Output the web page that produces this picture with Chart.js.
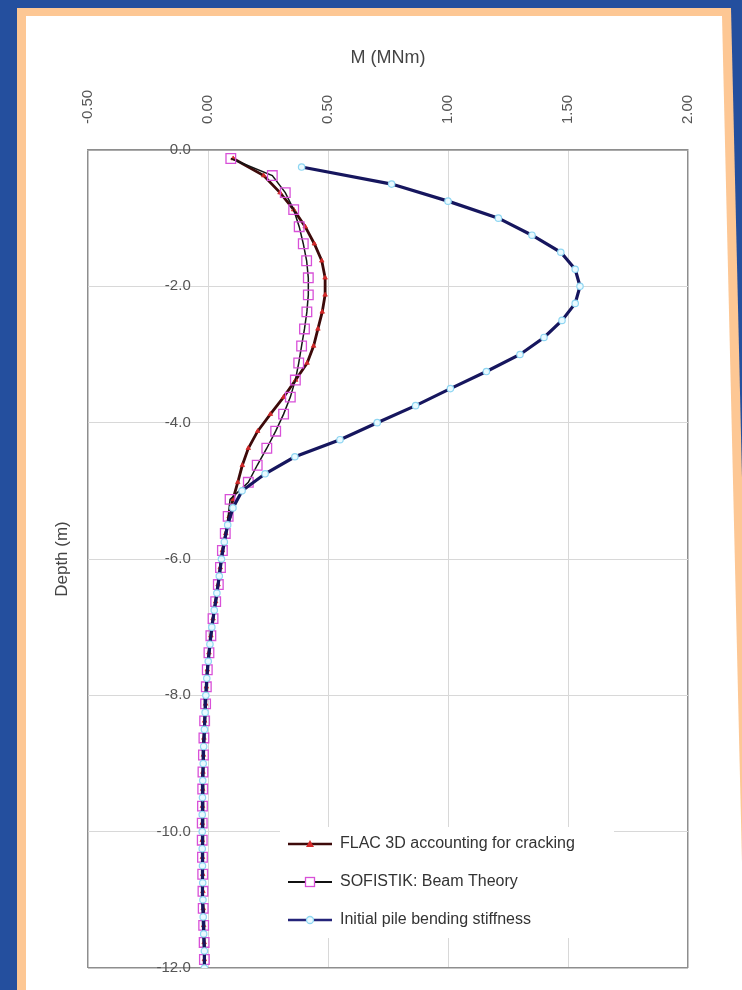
<!DOCTYPE html>
<html>
<head>
<meta charset="utf-8">
<title>Pile bending moment with depth</title>
<script src="https://cdn.jsdelivr.net/npm/chart.js@4.4.1/dist/chart.umd.min.js"></script>
<style>
  html, body { margin: 0; padding: 0; width: 742px; height: 990px; overflow: hidden; background: #244f9e; }
  #frame { position: absolute; left: 0; top: 0; width: 742px; height: 990px; background: #fdc794;
           clip-path: polygon(17px 8px, 731px 8px, 754px 990px, 17px 990px); }
  #sheet { position: absolute; left: 0; top: 0; width: 742px; height: 990px; background: #ffffff;
           clip-path: polygon(26px 16px, 722px 16px, 745px 990px, 26px 990px); }
  #plot { position: absolute; left: 0; top: 0; }
</style>
</head>
<body>
<div id="frame"></div>
<div id="sheet"></div>
<canvas id="plot" width="742" height="990"></canvas>
<script>
// Depths (m) of the result nodes: FLAC 3D and SOFISTIK share the mid-element nodes,
// the initial-stiffness run is reported at the element ends.
const midNodeDepth = [
  -0.125, -0.375, -0.625, -0.875, -1.125, -1.375, -1.625, -1.875,
  -2.125, -2.375, -2.625, -2.875, -3.125, -3.375, -3.625, -3.875,
  -4.125, -4.375, -4.625, -4.875, -5.125, -5.375, -5.625, -5.875,
  -6.125, -6.375, -6.625, -6.875, -7.125, -7.375, -7.625, -7.875,
  -8.125, -8.375, -8.625, -8.875, -9.125, -9.375, -9.625, -9.875,
  -10.125, -10.375, -10.625, -10.875, -11.125, -11.375, -11.625, -11.875
];
const endNodeDepth = [
  -0.25, -0.5, -0.75, -1.0, -1.25, -1.5, -1.75, -2.0,
  -2.25, -2.5, -2.75, -3.0, -3.25, -3.5, -3.75, -4.0,
  -4.25, -4.5, -4.75, -5.0, -5.25, -5.5, -5.75, -6.0,
  -6.25, -6.5, -6.75, -7.0, -7.25, -7.5, -7.75, -8.0,
  -8.25, -8.5, -8.75, -9.0, -9.25, -9.5, -9.75, -10.0,
  -10.25, -10.5, -10.75, -11.0, -11.25, -11.5, -11.75, -12.0
];

// Bending moment M (MNm)
const flacMoment = [
  0.105, 0.232, 0.300, 0.357, 0.405, 0.443, 0.474, 0.488,
  0.488, 0.476, 0.458, 0.440, 0.413, 0.365, 0.315, 0.260,
  0.207, 0.168, 0.143, 0.124, 0.104, 0.088, 0.074, 0.060,
  0.051, 0.042, 0.032, 0.021, 0.012, 0.004, -0.003, -0.007,
  -0.010, -0.014, -0.017, -0.019, -0.021, -0.022, -0.023, -0.024,
  -0.024, -0.023, -0.022, -0.021, -0.020, -0.018, -0.016, -0.015
];
const sofistikMoment = [
  0.095, 0.268, 0.322, 0.357, 0.380, 0.397, 0.411, 0.418,
  0.418, 0.412, 0.402, 0.390, 0.378, 0.364, 0.343, 0.315,
  0.282, 0.245, 0.205, 0.168, 0.092, 0.084, 0.072, 0.060,
  0.052, 0.043, 0.032, 0.021, 0.012, 0.004, -0.003, -0.007,
  -0.010, -0.014, -0.017, -0.019, -0.021, -0.022, -0.023, -0.024,
  -0.024, -0.023, -0.022, -0.021, -0.020, -0.018, -0.016, -0.015
];
const initialMoment = [
  0.390, 0.765, 1.000, 1.210, 1.350, 1.470, 1.530, 1.550,
  1.530, 1.475, 1.400, 1.300, 1.160, 1.010, 0.865, 0.705,
  0.550, 0.362, 0.238, 0.142, 0.104, 0.082, 0.068, 0.056,
  0.047, 0.037, 0.026, 0.016, 0.008, 0.001, -0.005, -0.009,
  -0.012, -0.015, -0.018, -0.020, -0.022, -0.023, -0.024, -0.024,
  -0.024, -0.023, -0.022, -0.021, -0.020, -0.018, -0.015, -0.015
];

const seriesNames = [
  'FLAC 3D accounting for cracking',
  'SOFISTIK: Beam Theory',
  'Initial pile bending stiffness'
];

// Axis settings
const momentTicks = { min: -0.5, max: 2.0, step: 0.5 };
const depthTicks = { min: -12, max: 0, step: 2 };

const toPoints = (moments, depths) => moments.map((m, i) => ({ x: m, y: depths[i] }));

Chart.defaults.font.family = '"Liberation Sans", Arial, sans-serif';
Chart.defaults.color = '#4a4a4a';

// Small line-and-marker samples for the key
function keySample(lineColor, lineWidth, marker) {
  const c = document.createElement('canvas');
  c.width = 44; c.height = 16;
  const g = c.getContext('2d');
  g.strokeStyle = lineColor; g.lineWidth = lineWidth;
  g.beginPath(); g.moveTo(0, 8); g.lineTo(44, 8); g.stroke();
  marker(g, 22, 8);
  return c;
}
const keySamples = [
  keySample('#3d0a0a', 2.5, (g, x, y) => {
    g.fillStyle = '#d42a2a';
    g.beginPath(); g.moveTo(x, y - 4); g.lineTo(x + 4, y + 3); g.lineTo(x - 4, y + 3); g.closePath(); g.fill();
  }),
  keySample('#111111', 2, (g, x, y) => {
    g.fillStyle = '#ffffff'; g.fillRect(x - 4.5, y - 4.5, 9, 9);
    g.strokeStyle = '#d850d8'; g.lineWidth = 1.3; g.strokeRect(x - 4.5, y - 4.5, 9, 9);
  }),
  keySample('#24247a', 2.5, (g, x, y) => {
    g.fillStyle = '#eafaff'; g.strokeStyle = '#8fd6f2'; g.lineWidth = 1.3;
    g.beginPath(); g.arc(x, y, 3.5, 0, Math.PI * 2); g.fill(); g.stroke();
  })
];

// Puts the key in the lower right of the plot on a white backing
const keyPlacement = {
  id: 'keyPlacement',
  afterLayout(chart) {
    const lg = chart.legend;
    if (!lg) return;
    const area = chart.chartArea;
    const pad = lg.options.labels.padding;
    const rowHalf = 8;
    lg.left = area.left + 200 - pad;
    lg.top = area.bottom - 124 - pad - rowHalf;
    lg.right = area.right;
    lg.bottom = area.bottom;
    if (!lg._backed) {
      const base = lg.draw;
      lg.draw = function () {
        const c = this.ctx;
        const a = this.chart.chartArea;
        c.save();
        c.fillStyle = '#ffffff';
        c.fillRect(a.left + 192, a.bottom - 141, 334, 111);
        c.restore();
        base.apply(this, arguments);
      };
      lg._backed = true;
    }
  }
};

const frameColor = '#8e8e8e';
const gridColor = '#d8d8d8';

new Chart(document.getElementById('plot'), {
  type: 'scatter',
  data: {
    datasets: [
      {
        label: seriesNames[0],
        data: toPoints(flacMoment, midNodeDepth),
        showLine: true,
        borderColor: '#3d0a0a',
        borderWidth: 2.8,
        pointStyle: 'triangle',
        pointRadius: 2.6,
        pointBorderWidth: 0.8,
        pointBackgroundColor: '#d42a2a',
        pointBorderColor: '#d42a2a',
        order: 3
      },
      {
        label: seriesNames[1],
        data: toPoints(sofistikMoment, midNodeDepth),
        showLine: true,
        borderColor: '#151515',
        borderWidth: 1.5,
        pointStyle: 'rect',
        pointRadius: 6.8,
        pointBorderWidth: 1.3,
        pointBackgroundColor: 'rgba(255,255,255,0)',
        pointBorderColor: '#d850d8',
        order: 2
      },
      {
        label: seriesNames[2],
        data: toPoints(initialMoment, endNodeDepth),
        showLine: true,
        borderColor: '#16165e',
        borderWidth: 3.2,
        pointStyle: 'circle',
        pointRadius: 3.2,
        pointBorderWidth: 1.2,
        pointBackgroundColor: '#eafaff',
        pointBorderColor: '#8fd6f2',
        order: 1
      }
    ]
  },
  options: {
    responsive: false,
    animation: false,
    devicePixelRatio: 1,
    layout: { padding: { left: 24, top: 16, right: 54, bottom: 22 } },
    plugins: {
      tooltip: { enabled: false },
      legend: {
        position: 'chartArea',
        align: 'start',
        labels: {
          usePointStyle: true,
          pointStyleWidth: 44,
          padding: 22,
          color: '#333333',
          font: { size: 16 },
          sort: (a, b) => a.datasetIndex - b.datasetIndex,
          generateLabels(chart) {
            const items = Chart.defaults.plugins.legend.labels.generateLabels(chart);
            items.forEach(it => { it.pointStyle = keySamples[it.datasetIndex]; });
            return items;
          }
        }
      }
    },
    scales: {
      x: {
        type: 'linear',
        position: 'top',
        min: momentTicks.min,
        max: momentTicks.max,
        ticks: {
          stepSize: momentTicks.step,
          minRotation: 90,
          maxRotation: 90,
          padding: 26,
          labelOffset: 18,
          color: '#555555',
          font: { size: 15 },
          callback: v => v.toFixed(2)
        },
        grid: {
          drawTicks: false,
          color: c => (c.tick && (c.tick.value === momentTicks.min || c.tick.value === momentTicks.max)) ? frameColor : gridColor,
          lineWidth: c => (c.tick && (c.tick.value === momentTicks.min || c.tick.value === momentTicks.max)) ? 1.5 : 1
        },
        border: { color: frameColor, width: 1.5 },
        title: {
          display: true,
          text: 'M (MNm)',
          color: '#444444',
          font: { size: 18 },
          padding: { top: 31, bottom: 0 }
        },
        afterFit(scale) { scale.height = 134; }
      },
      y: {
        type: 'linear',
        // labels sit just left of the M = 0 line, as in the spreadsheet layout
        position: { x: -0.072 },
        min: depthTicks.min,
        max: depthTicks.max,
        ticks: {
          stepSize: depthTicks.step,
          color: '#555555',
          font: { size: 15 },
          callback: v => v.toFixed(1)
        },
        grid: {
          drawTicks: false,
          color: c => (c.tick && (c.tick.value === depthTicks.min || c.tick.value === depthTicks.max)) ? frameColor : gridColor,
          lineWidth: c => (c.tick && (c.tick.value === depthTicks.min || c.tick.value === depthTicks.max)) ? 1.5 : 1
        },
        border: { display: false }
      },
      depth: {
        type: 'linear',
        axis: 'y',
        position: 'left',
        ticks: { display: false },
        grid: { display: false },
        border: { display: false },
        title: {
          display: true,
          text: 'Depth (m)',
          color: '#444444',
          font: { size: 17 },
          padding: { top: 28, bottom: 0 }
        },
        afterFit(scale) { scale.width = 64; }
      }
    }
  },
  plugins: [keyPlacement]
});
</script>
</body>
</html>
